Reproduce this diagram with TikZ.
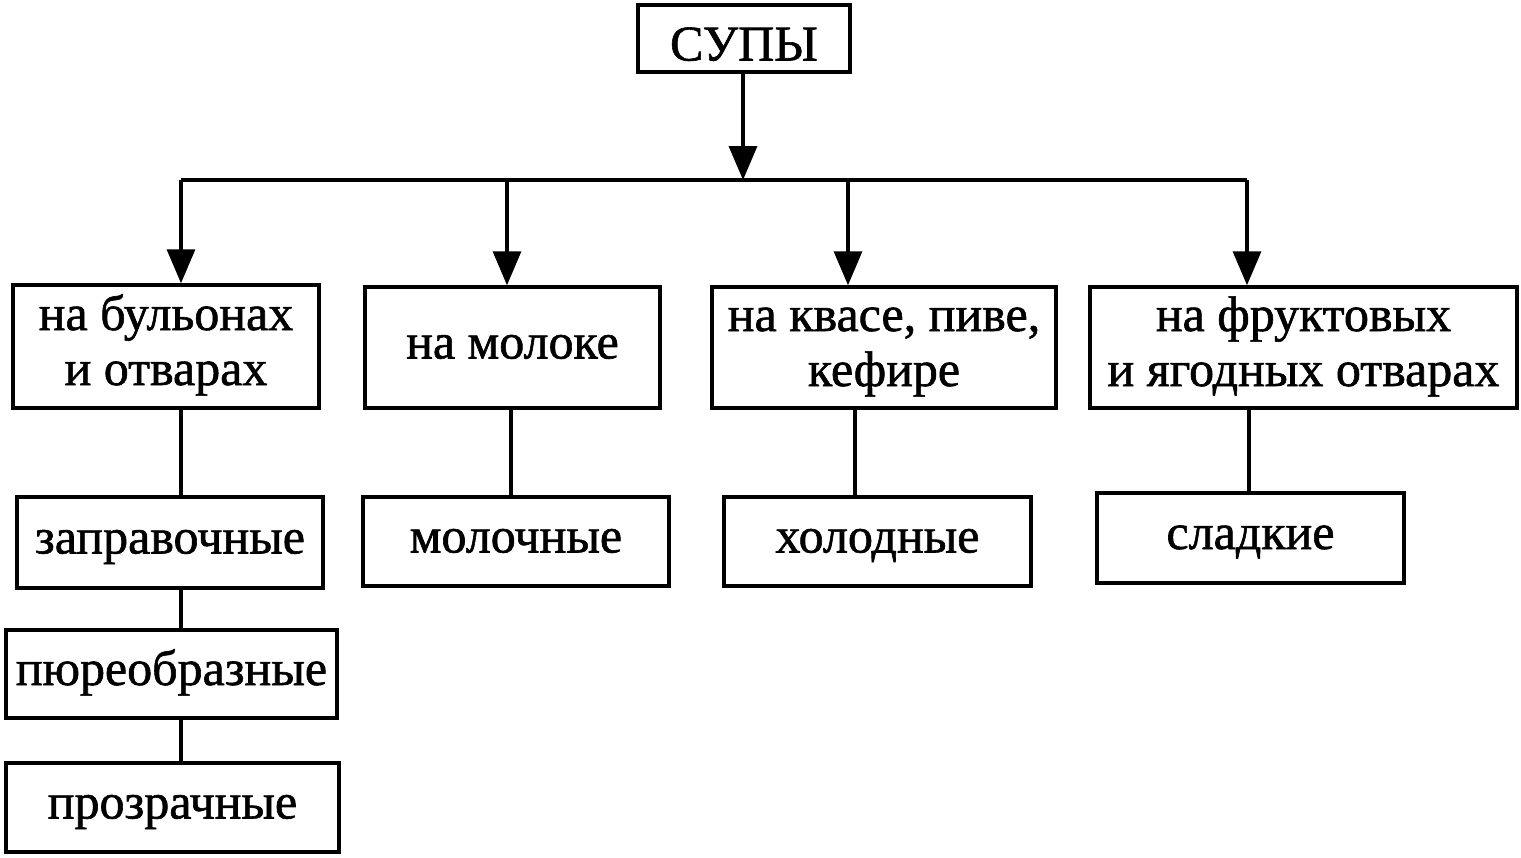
\documentclass[tikz,border=0pt]{standalone}
\usepackage{fontspec}
\setmainfont{Liberation Serif}
\newfontfamily\heavy{Liberation Serif}[FakeBold=1.2]
\usetikzlibrary{arrows.meta}
\begin{document}
\begin{tikzpicture}[x=1pt,y=-1pt,
  box/.style={draw,line width=3.5pt,inner sep=0pt,align=center,
    font=\heavy\fontsize{50}{55}\selectfont},
  conn/.style={line width=3.5pt},
  arr/.style={line width=3.5pt,-{Triangle[length=34pt,width=28pt]}}]
\useasboundingbox (0,0) rectangle (1521,857);
\node[box,minimum width=212pt,minimum height=67pt] (supy) at (744,38.5) {\strut\smash{\raisebox{-11pt}{СУПЫ}}};
\node[box,minimum width=306pt,minimum height=123pt] (b1) at (166,346.5) {\strut на бульонах\\\strut и отварах};
\node[box,minimum width=295pt,minimum height=121pt] (b2) at (512.5,347.5) {\strut на молоке};
\node[box,minimum width=344pt,minimum height=121pt] (b3) at (884,347.5) {\strut на квасе, пиве,\\\strut кефире};
\node[box,minimum width=427pt,minimum height=121pt] (b4) at (1303.5,347.5) {\strut на фруктовых\\\strut и ягодных отварах};
\node[box,minimum width=306pt,minimum height=91pt] (c1) at (170,542.5) {\strut заправочные};
\node[box,minimum width=306pt,minimum height=89pt] (c2) at (516,541.5) {\strut молочные};
\node[box,minimum width=307pt,minimum height=89pt] (c3) at (877.5,541.5) {\strut холодные};
\node[box,minimum width=307pt,minimum height=90pt] (c4) at (1250.5,538) {\strut сладкие};
\node[box,minimum width=331pt,minimum height=88pt] (d1) at (171.5,674) {\strut пюреобразные};
\node[box,minimum width=333pt,minimum height=89pt] (d2) at (172.5,807.5) {\strut прозрачные};
\coordinate (j) at (743,180);
\coordinate (j1) at (181,180);
\coordinate (j2) at (507,180);
\coordinate (j3) at (848,180);
\coordinate (j4) at (1247,180);
\coordinate (v2) at (511,0);
\coordinate (v3) at (855,0);
\coordinate (v4) at (1249,0);
\draw[arr] (supy.south -| j) -- (j);
\draw[conn] (j1) -- (j4);
\draw[arr] (j1) -- (j1 |- b1.north);
\draw[arr] (j2) -- (j2 |- b2.north);
\draw[arr] (j3) -- (j3 |- b3.north);
\draw[arr] (j4) -- (j4 |- b4.north);
\draw[conn] (b1.south -| j1) -- (c1.north -| j1);
\draw[conn] (b2.south -| v2) -- (c2.north -| v2);
\draw[conn] (b3.south -| v3) -- (c3.north -| v3);
\draw[conn] (b4.south -| v4) -- (c4.north -| v4);
\draw[conn] (c1.south -| j1) -- (d1.north -| j1);
\draw[conn] (d1.south -| j1) -- (d2.north -| j1);
\end{tikzpicture}
\end{document}
